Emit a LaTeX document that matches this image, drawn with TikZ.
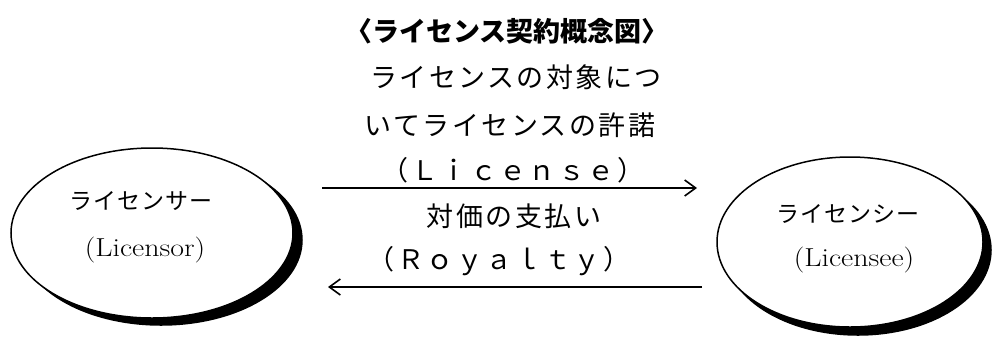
\documentclass[tikz,border=0pt]{standalone}
\usepackage{fontspec}
\usepackage{graphicx}
\usetikzlibrary{shapes.geometric,arrows.meta}
\newfontfamily\jp{Noto Sans CJK JP}
\newfontfamily\jpsp[LetterSpace=9]{Noto Sans CJK JP}
\newfontfamily\jpsm[LetterSpace=4]{Noto Sans CJK JP}
\begin{document}
\begin{tikzpicture}[x=1pt,y=-1pt,
  party/.style={ellipse, draw=black, line width=1.5pt, fill=white, inner sep=0pt},
  shade/.style={ellipse, fill=black, draw=black, line width=1.5pt, inner sep=0pt},
  body/.style={inner sep=0pt, font=\fontsize{27}{30}\selectfont\jpsp},
  small/.style={inner sep=0pt, font=\fontsize{23}{26}\selectfont\jpsm},
  latin/.style={inner sep=0pt, font=\fontsize{26}{30}\selectfont\rmfamily},
  flow/.style={line width=1.6pt, -{Straight Barb[length=11pt,width=16pt,line width=1.6pt]}}]
\useasboundingbox (0,0) rectangle (992,338);
% title
\node[inner sep=0pt, font=\fontsize{27}{30}\selectfont\jp\bfseries] (title) at (507,31) {〈ライセンス契約概念図〉};
% parties
\node[shade, minimum width=282pt, minimum height=170pt] (lsrs) at (161,240) {};
\node[party, minimum width=282pt, minimum height=170pt] (lsr) at (152,233) {};
\node[shade, minimum width=266pt, minimum height=170pt] (lses) at (858,250) {};
\node[party, minimum width=266pt, minimum height=170pt] (lse) at (850,242) {};
\node[small] (lsrj) at (141,201) {ライセンサー};
\node[latin] (lsre) at (145,250) {\scalebox{1.15}[1]{(Licensor)}};
\node[small] (lsej) at (848,214) {ライセンシー};
\node[latin] (lsee) at (854,260) {\scalebox{1.15}[1]{(Licensee)}};
% labels
\node[body] (l1) at (516,77) {ライセンスの対象につ};
\node[body] (l2) at (510,125) {いてライセンスの許諾};
\node[body] (l3) at (513,170) {（Ｌｉｃｅｎｓｅ）};
\node[body] (r1) at (514,216) {対価の支払い};
\node[body] (r2) at (499,261) {（Ｒｏｙａｌｔｙ）};
% arrows
\coordinate (a1s) at (322,188);
\coordinate (a1e) at (697,188);
\coordinate (a2s) at (702,287);
\coordinate (a2e) at (328,287);
\draw[flow] (a1s) -- (a1e);
\draw[flow] (a2s) -- (a2e);
\end{tikzpicture}
\end{document}
